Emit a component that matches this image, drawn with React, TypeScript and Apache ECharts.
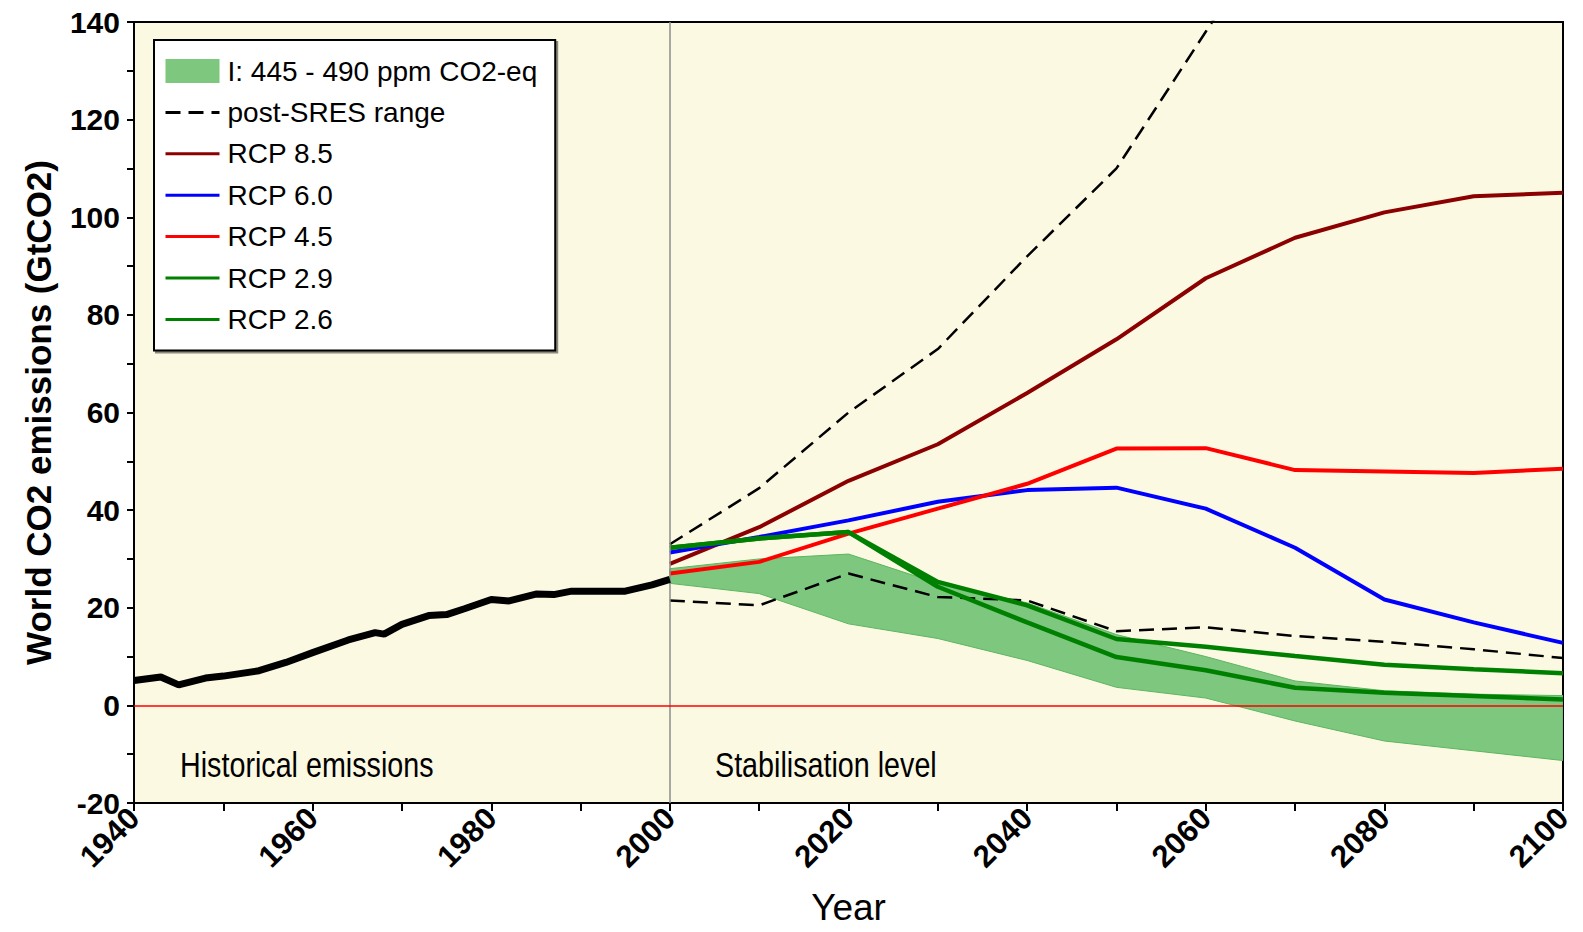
import React, { useEffect, useRef } from "react";
import * as echarts from "echarts";

const SANS = '"Liberation Sans", Arial, sans-serif';

// Historical emissions (GtCO2)
const histYears = [1940, 1943, 1945, 1948, 1950, 1954, 1957, 1960, 1964, 1967, 1968, 1970, 1973, 1975, 1977, 1980, 1982, 1985, 1987, 1989, 1995, 1998, 2000];
const histValues = [5.1, 5.8, 4.2, 5.6, 6.0, 7.1, 8.8, 10.8, 13.4, 14.9, 14.6, 16.6, 18.4, 18.6, 19.8, 21.7, 21.4, 22.8, 22.7, 23.4, 23.4, 24.7, 25.8];

// Scenario years
const scenarioYears = [2000, 2010, 2020, 2030, 2040, 2050, 2060, 2070, 2080, 2090, 2100];
const rcp85 = [29, 36.5, 46, 53.5, 64, 75, 87.5, 95.8, 101, 104.3, 105];
const rcp60 = [31.3, 34.5, 37.9, 41.7, 44.1, 44.6, 40.3, 32.3, 21.7, 17, 12.8];
const rcp45 = [27, 29.4, 35.2, 40.3, 45.4, 52.6, 52.7, 48.2, 47.9, 47.6, 48.5];
const rcp29 = [32.3, 34.2, 35.5, 25.3, 20.5, 13.6, 12, 10.1, 8.3, 7.4, 6.6];
const rcp26 = [32.3, 34.2, 35.5, 24.3, 17, 9.9, 7.2, 3.6, 2.6, 1.9, 1.2];
const sresHigh = [33, 44.5, 60, 73, 92, 110, 138, 166, null, null, null];
const sresLow = [21.5, 20.5, 27, 22.2, 21.5, 15.2, 16, 14.2, 13, 11.5, 9.7];
const bandTop = [28, 30, 31, 25, 21, 14.5, 10, 5, 3, 2.3, 2];
const bandBottom = [25, 22.9, 16.7, 13.7, 9.2, 3.7, 1.5, -3.2, -7.3, -9.3, -11.3];

const BAND_NAME = "I: 445 - 490 ppm CO2-eq";
const BAND_COLOR = "#7DC77F";

const pairs = (xs: number[], ys: (number | null)[]) =>
  xs.map((x, i) => [x, ys[i]]);

export default function App() {
  const ref = useRef<HTMLDivElement>(null);

  useEffect(() => {
    document.body.style.margin = "0";
    if (!ref.current) return;
    const chart = echarts.init(ref.current, undefined, { renderer: "svg" });

    const lineSeries = (name: string, ys: (number | null)[], color: string, width: number, dashed = false) => ({
      name,
      type: "line",
      data: pairs(scenarioYears, ys),
      symbol: "none",
      showSymbol: false,
      connectNulls: false,
      lineStyle: { color, width, type: dashed ? [15, 8] : "solid" },
      itemStyle: { color },
      silent: true,
    });

    const hiddenSymbol = { opacity: 0, color: "transparent", borderWidth: 0 };

    const option: any = {
      animation: false,
      backgroundColor: "#ffffff",
      grid: {
        left: 134,
        right: 20,
        top: 22,
        bottom: 129,
        show: true,
        outerBoundsMode: "none",
        containLabel: false,
        backgroundColor: "#FCF9E2",
        borderColor: "#000",
        borderWidth: 2,
      },
      legend: {
        orient: "vertical",
        left: 154,
        top: 40,
        backgroundColor: "#fff",
        borderColor: "#000",
        borderWidth: 2,
        shadowColor: "rgba(0,0,0,0.45)",
        shadowOffsetX: 2,
        shadowOffsetY: 2,
        shadowBlur: 0,
        padding: [16, 18, 16, 10],
        itemWidth: 54,
        itemHeight: 24,
        itemGap: 11.4,
        selectedMode: false,
        lineStyle: { width: 3 },
        textStyle: {
          fontFamily: SANS,
          fontSize: 28,
          color: "#000",
          lineHeight: 30,
          padding: [0, 0, 0, 3],
        },
        data: [
          { name: BAND_NAME, icon: "rect", itemStyle: { color: BAND_COLOR, borderWidth: 0 } },
          { name: "post-SRES range", itemStyle: hiddenSymbol },
          { name: "RCP 8.5", itemStyle: hiddenSymbol },
          { name: "RCP 6.0", itemStyle: hiddenSymbol },
          { name: "RCP 4.5", itemStyle: hiddenSymbol },
          { name: "RCP 2.9", itemStyle: hiddenSymbol },
          { name: "RCP 2.6", itemStyle: hiddenSymbol },
        ],
      },
      xAxis: {
        type: "value",
        min: 1940,
        max: 2100,
        interval: 20,
        name: "Year",
        nameLocation: "middle",
        nameGap: 86,
        nameMoveOverlap: false,
        nameTextStyle: { fontFamily: SANS, fontSize: 37, color: "#000" },
        axisLine: {
          show: true,
          onZero: false,
          lineStyle: { color: "#000", width: 2, shadowColor: "rgba(0,0,0,0.45)", shadowOffsetY: 3 },
        },
        axisTick: { show: true, length: 8, lineStyle: { color: "#000", width: 2 } },
        minorTick: { show: true, splitNumber: 2, length: 8, lineStyle: { color: "#000", width: 2 } },
        splitLine: { show: false },
        minorSplitLine: { show: false },
        axisLabel: {
          rotate: 45,
          margin: 10,
          formatter: (v: number) => String(v),
          fontFamily: SANS,
          fontWeight: "bold",
          fontSize: 31,
          color: "#000",
          textShadowColor: "rgba(0,0,0,0.35)",
          textShadowOffsetX: 2,
          textShadowOffsetY: 2,
        },
      },
      yAxis: {
        type: "value",
        min: -20,
        max: 140,
        interval: 20,
        name: "World CO2 emissions (GtCO2)",
        nameLocation: "middle",
        nameGap: 78,
        nameRotate: 90,
        nameMoveOverlap: false,
        nameTextStyle: { fontFamily: SANS, fontWeight: "bold", fontSize: 35, color: "#000" },
        axisLine: { show: true, onZero: false, lineStyle: { color: "#000", width: 2 } },
        axisTick: { show: true, length: 7, lineStyle: { color: "#000", width: 2 } },
        minorTick: { show: true, splitNumber: 2, length: 7, lineStyle: { color: "#000", width: 2 } },
        splitLine: { show: false },
        minorSplitLine: { show: false },
        axisLabel: {
          margin: 14,
          formatter: (v: number) => String(v),
          fontFamily: SANS,
          fontWeight: "bold",
          fontSize: 30,
          color: "#000",
        },
      },
      graphic: [
        {
          type: "text",
          x: 180,
          y: 765,
          scaleX: 0.82,
          style: {
            text: "Historical emissions",
            font: `35px ${SANS}`,
            fill: "#000",
            verticalAlign: "middle",
          },
        },
        {
          type: "text",
          x: 715,
          y: 765,
          scaleX: 0.82,
          style: {
            text: "Stabilisation level",
            font: `35px ${SANS}`,
            fill: "#000",
            verticalAlign: "middle",
          },
        },
      ],
      series: [
        {
          name: BAND_NAME,
          type: "custom",
          data: [[2000, 0]],
          itemStyle: { color: BAND_COLOR },
          silent: true,
          clip: true,
          z: 1,
          renderItem: (_params: any, api: any) => {
            const top = scenarioYears.map((x, i) => api.coord([x, bandTop[i]]));
            const bottom = scenarioYears.map((x, i) => api.coord([x, bandBottom[i]])).reverse();
            return {
              type: "polygon",
              shape: { points: top.concat(bottom) },
              style: { fill: BAND_COLOR, stroke: "#5DB660", lineWidth: 1 },
            };
          },
        },
        { ...lineSeries("post-SRES range", sresLow, "#000", 2.5, true), z: 3 },
        { ...lineSeries("post-SRES range", sresHigh, "#000", 2.5, true), z: 3 },
        { ...lineSeries("RCP 8.5", rcp85, "#8B0000", 4), z: 4 },
        { ...lineSeries("RCP 6.0", rcp60, "#0000FF", 4), z: 4 },
        { ...lineSeries("RCP 4.5", rcp45, "#FF0000", 4), z: 4 },
        { ...lineSeries("RCP 2.9", rcp29, "#008000", 4.5), z: 4 },
        { ...lineSeries("RCP 2.6", rcp26, "#008000", 4.5), z: 4 },
        {
          name: "Historical",
          type: "line",
          data: pairs(histYears, histValues),
          symbol: "none",
          showSymbol: false,
          lineStyle: { color: "#000", width: 7 },
          itemStyle: { color: "#000" },
          silent: true,
          z: 5,
          markLine: {
            silent: true,
            symbol: "none",
            label: { show: false },
            data: [
              { xAxis: 2000, lineStyle: { color: "#8C8C8C", width: 1.5, type: "solid" } },
              { yAxis: 0, lineStyle: { color: "#FF0000", width: 1.5, type: "solid" } },
            ],
          },
        },
      ],
    };

    chart.setOption(option);
    return () => chart.dispose();
  }, []);

  return <div ref={ref} style={{ width: 1583, height: 932 }} />;
}
